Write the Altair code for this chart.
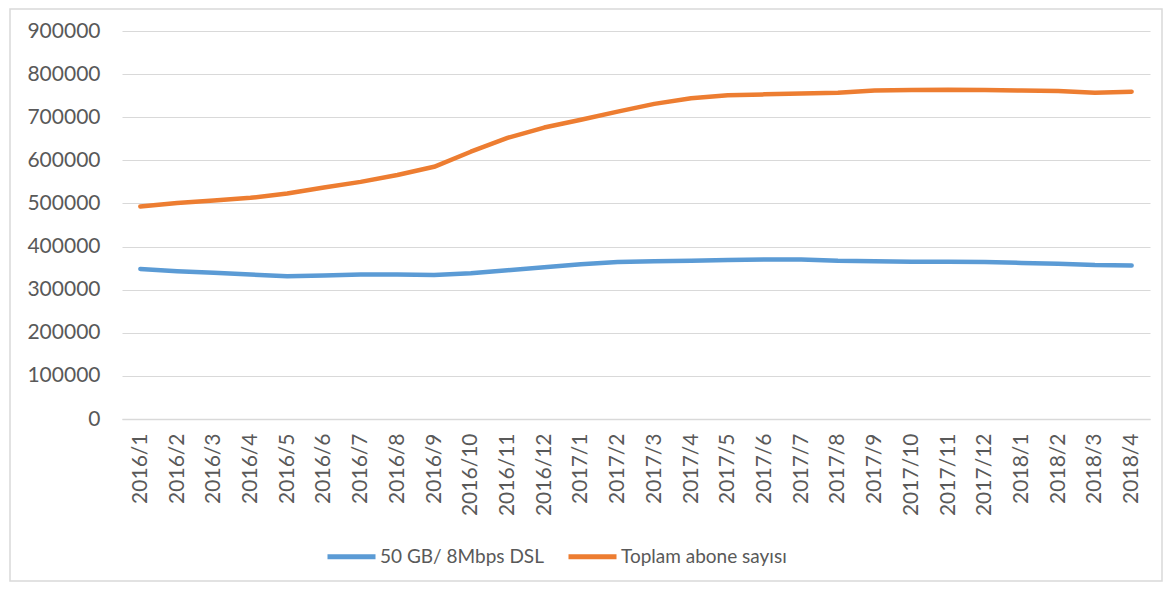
import altair as alt
import pandas as pd

months = ["2016/1", "2016/2", "2016/3", "2016/4", "2016/5", "2016/6", "2016/7",
          "2016/8", "2016/9", "2016/10", "2016/11", "2016/12", "2017/1", "2017/2",
          "2017/3", "2017/4", "2017/5", "2017/6", "2017/7", "2017/8", "2017/9",
          "2017/10", "2017/11", "2017/12", "2018/1", "2018/2", "2018/3", "2018/4"]

dsl_50gb = [348000, 343000, 339000, 335000, 331000, 333000, 335000,
            335000, 334000, 338000, 345000, 352000, 359000, 364000,
            366000, 367000, 369000, 370000, 370000, 367000, 366000,
            365000, 365000, 364000, 362000, 360000, 357000, 356000]

toplam = [493000, 501000, 507000, 513000, 523000, 537000, 550000,
          566000, 585000, 620000, 652000, 676000, 694000, 713000,
          731000, 744000, 751000, 753000, 755000, 757000, 762000,
          763000, 764000, 763000, 762000, 761000, 757000, 759000]

series_names = ["50 GB/ 8Mbps DSL", "Toplam abone sayısı"]
series_colors = ["#5B9BD5", "#ED7D31"]

rows = []
for name, vals in zip(series_names, [dsl_50gb, toplam]):
    for m, v in zip(months, vals):
        rows.append({"Ay": m, "Değer": v, "Seri": name})
df = pd.DataFrame(rows)

FONT = "Lato"
TXT = "#595959"

lines = alt.Chart(df).mark_line(strokeWidth=4.5, strokeCap="round", strokeJoin="round").encode(
    x=alt.X("Ay:N", sort=months, title=None,
            scale=alt.Scale(type="point", padding=0.5),
            axis=alt.Axis(labelAngle=-90, labelFontSize=21, labelColor=TXT, labelFont=FONT,
                          ticks=False, tickSize=0, labelPadding=14, domainColor="#D9D9D9",
                          domainWidth=1.5, grid=False)),
    y=alt.Y("Değer:Q", title=None,
            scale=alt.Scale(domain=[0, 900000], nice=False),
            axis=alt.Axis(values=list(range(0, 900001, 100000)), format="d",
                          labelFontSize=21, labelColor=TXT, labelFont=FONT,
                          ticks=False, tickSize=0, labelPadding=22, domain=False,
                          gridColor="#D9D9D9", gridWidth=1.2)),
    color=alt.Color("Seri:N", sort=series_names,
                    scale=alt.Scale(domain=series_names, range=series_colors),
                    legend=alt.Legend(title=None, orient="none", legendX=203, legendY=499,
                                      direction="horizontal", symbolType="stroke",
                                      symbolSize=2304, symbolStrokeWidth=5,
                                      labelFontSize=19, labelColor=TXT, labelFont=FONT,
                                      labelOffset=2, columnPadding=14, labelLimit=400))
)

border = alt.Chart(alt.Data(values=[{}])).mark_rect(fill=None, stroke="#D9D9D9", strokeWidth=1.5).encode(
    x=alt.value(-112), x2=alt.value(1040), y=alt.value(-22), y2=alt.value(550)
)

chart = alt.layer(border, lines).properties(
    width=1028, height=388,
    autosize=alt.AutoSizeParams(type="none"),
    padding={"left": 114, "top": 23, "right": 15, "bottom": 164},
    background="white"
).configure_view(stroke=None)

chart.save("out.html", embed_options={"renderer": "svg", "actions": False})
